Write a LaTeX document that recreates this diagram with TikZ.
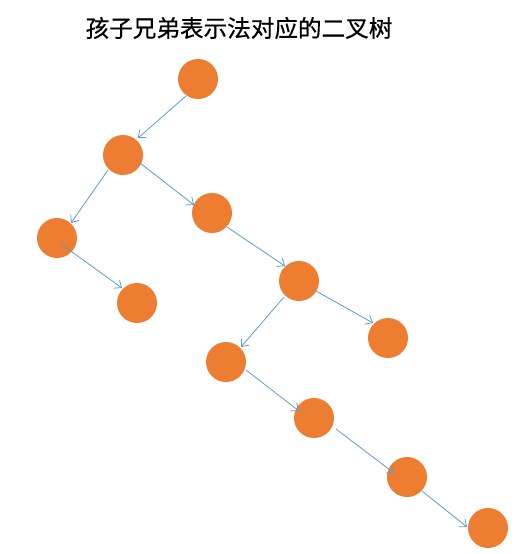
\documentclass[tikz,border=0pt]{standalone}
\usepackage{fontspec}
\newfontfamily\cjk[FakeBold=0.6]{Noto Sans CJK SC}
\usetikzlibrary{arrows.meta,calc}
\definecolor{nodeor}{HTML}{ED7D31}
\definecolor{arrblue}{HTML}{5B9BD5}
\tikzset{
  treenode/.style={circle,fill=nodeor,draw=none,minimum size=40pt,inner sep=0pt},
  arr/.style={draw=arrblue,line width=0.8pt,-{Straight Barb[length=6pt,width=10pt]}}
}
\begin{document}
\begin{tikzpicture}[x=1pt,y=-1pt]
\useasboundingbox (0,0) rectangle (517,554);
\node[font=\cjk\fontsize{23.6}{24}\selectfont] (title) at (239,28) {孩子兄弟表示法对应的二叉树};
\node[treenode] (A) at (198,79) {};
\node[treenode] (B) at (123,155) {};
\node[treenode] (C) at (212,213) {};
\node[treenode] (D) at (57,238) {};
\node[treenode] (E) at (137,303) {};
\node[treenode] (F) at (299,281) {};
\node[treenode] (G) at (388,338) {};
\node[treenode] (H) at (226,362) {};
\node[treenode] (I) at (314,418) {};
\node[treenode] (J) at (407,477) {};
\node[treenode] (K) at (488,528) {};
\draw[arr] ($(A)+(-12,17)$) -- ($(B)+(15,-17)$);
\draw[arr] ($(B)+(-15,15)$) -- ($(D)+(14,-15)$);
\draw[arr] ($(B)+(17,8)$) -- ($(C)+(-18,-8)$);
\draw[arr] ($(D)+(4,6)$) -- ($(E)+(-15,-15)$);
\draw[arr] ($(C)+(15,14)$) -- ($(F)+(-14,-15)$);
\draw[arr] ($(F)+(-15,16)$) -- ($(H)+(15,-15)$);
\draw[arr] ($(F)+(17,10)$) -- ($(G)+(-15,-15)$);
\draw[arr] ($(H)+(20,8)$) -- ($(I)+(-15,-7)$);
\draw[arr] ($(I)+(22,11)$) -- ($(J)+(-13,-4)$);
\draw[arr] ($(J)+(15,14)$) -- ($(K)+(-21,-1)$);
\end{tikzpicture}
\end{document}
